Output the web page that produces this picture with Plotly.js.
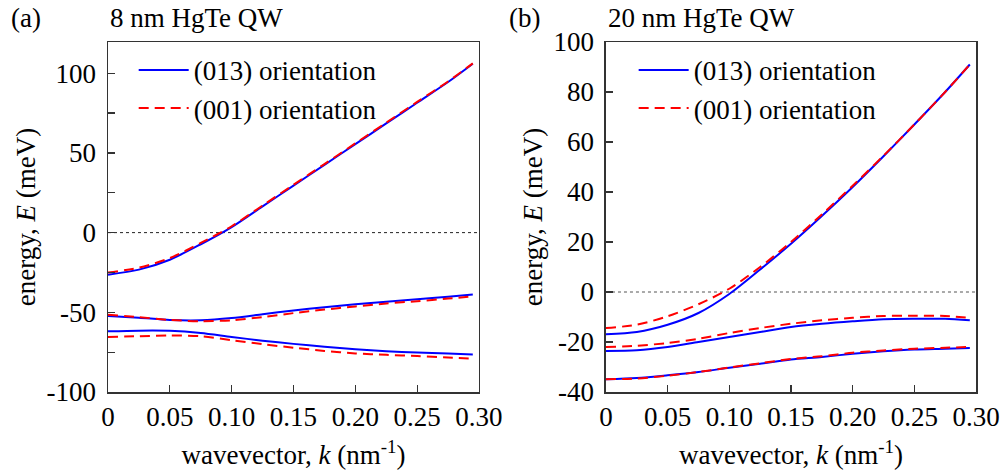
<!DOCTYPE html>
<html>
<head>
<meta charset="utf-8">
<script src="https://cdn.plot.ly/plotly-3.0.1.min.js"></script>
<style>
html,body{margin:0;padding:0;background:#fff;}
#chart{width:1007px;height:475px;}
#chart svg text{font-family:"Liberation Serif",serif !important;}
</style>
</head>
<body>
<div id="chart"></div>
<script>
// wavevector k (nm^-1)
const k = [0, 0.025, 0.05, 0.075, 0.1, 0.125, 0.15, 0.175, 0.2, 0.225, 0.25, 0.275, 0.295];

// (a) 8 nm HgTe QW, energies in meV
const a_band1_013 = [-26.4, -23.2, -17, -7.3, 3.5, 16.5, 29.5, 42.5, 55.5, 68.5, 81.5, 94.5, 106];
const a_band1_001 = [-25.1, -22, -16, -6.5, 4, 17, 30, 43, 56, 69, 82, 94.8, 106.2];
const a_band2_013 = [-52.3, -53.4, -54.8, -55, -53.6, -51.2, -48.8, -46.8, -45, -43.3, -41.8, -40.2, -38.8];
const a_band2_001 = [-51.5, -53, -54.8, -55.6, -55, -53, -50.5, -48.3, -46.3, -44.5, -43, -41.4, -40];
const a_band3_013 = [-61.9, -61.5, -61.6, -63, -65.5, -67.8, -69.8, -71.6, -73.2, -74.4, -75.2, -75.8, -76.4];
const a_band3_001 = [-65.5, -65, -64.5, -65, -67.5, -70, -72.2, -74.2, -75.8, -76.7, -77.4, -78.4, -79];

// (b) 20 nm HgTe QW, energies in meV
const b_band1_013 = [-16.9, -16, -13.1, -8.4, -0.8, 9, 19.3, 30.4, 42, 54.3, 67, 80, 91];
const b_band1_001 = [-14.4, -13.1, -9.7, -4.9, 1.3, 10, 20, 31, 42.5, 54.5, 67, 80, 91];
const b_band2_013 = [-23.6, -23.3, -22, -20, -18, -16, -14, -12.7, -11.7, -10.9, -10.7, -10.7, -11.3];
const b_band2_001 = [-22, -21.5, -20.4, -18.7, -16.4, -14.4, -12.7, -11.3, -10.3, -9.6, -9.5, -9.6, -10.3];
const b_band3_013 = [-34.9, -34.4, -33.3, -32, -30.3, -28.7, -27, -26, -24.7, -23.7, -23, -22.7, -22.4];
const b_band3_001 = [-34.9, -34.6, -33.5, -32, -30.2, -28.5, -26.8, -25.7, -24.3, -23.4, -22.7, -22.3, -22];

// tick labels
const xTickVals = [0, 0.05, 0.10, 0.15, 0.20, 0.25, 0.30];
const xTickText = ['0', '0.05', '0.10', '0.15', '0.20', '0.25', '0.30'];
const yaTickVals = [-100, -50, 0, 50, 100];
const yaTickText = ['-100', '-50', '0', '50', '100'];
const yaMinorVals = [-75, -25, 25, 75];
const ybTickVals = [-40, -20, 0, 20, 40, 60, 80, 100];
const ybTickText = ['-40', '-20', '0', '20', '40', '60', '80', '100'];

const name013 = '(013) orientation';
const name001 = '(001) orientation';

const FONT = 'Liberation Serif';
const blue = {color: '#0000ff', width: 2, shape: 'spline', smoothing: 0.8};
const red = {color: '#ff0000', width: 2, dash: '10px,6px', shape: 'spline', smoothing: 0.8};

function tr(y, line, name, xa, ya, lg, show) {
  return {x: k, y: y, type: 'scatter', mode: 'lines', line: line, name: name,
          xaxis: xa, yaxis: ya, legend: lg, showlegend: show, legendgroup: lg + name};
}

const data = [
  tr(a_band1_013, blue, name013, 'x', 'y', 'legend', true),
  tr(a_band1_001, red, name001, 'x', 'y', 'legend', true),
  tr(a_band2_013, blue, name013, 'x', 'y', 'legend', false),
  tr(a_band2_001, red, name001, 'x', 'y', 'legend', false),
  tr(a_band3_013, blue, name013, 'x', 'y', 'legend', false),
  tr(a_band3_001, red, name001, 'x', 'y', 'legend', false),
  tr(b_band1_013, blue, name013, 'x2', 'y2', 'legend2', true),
  tr(b_band1_001, red, name001, 'x2', 'y2', 'legend2', true),
  tr(b_band2_013, blue, name013, 'x2', 'y2', 'legend2', false),
  tr(b_band2_001, red, name001, 'x2', 'y2', 'legend2', false),
  tr(b_band3_013, blue, name013, 'x2', 'y2', 'legend2', false),
  tr(b_band3_001, red, name001, 'x2', 'y2', 'legend2', false)
];

const axisCommon = {
  showline: true, linecolor: '#333', linewidth: 1.5, mirror: true,
  ticks: 'inside', ticklen: 7, tickwidth: 1.2, tickcolor: '#333',
  showgrid: false, zeroline: false, automargin: false,
  tickfont: {family: FONT, size: 27, color: '#000'}
};

const xTitle = {text: 'wavevector, <i>k</i> (nm<sup>-1</sup>)', font: {family: FONT, size: 27, color: '#000'}, standoff: 14};
const yTitle = {text: 'energy, <i>E</i> (meV)', font: {family: FONT, size: 27, color: '#000'}, standoff: 3};

const legendCommon = {
  xref: 'paper', yref: 'paper', xanchor: 'left', yanchor: 'top',
  bgcolor: 'rgba(0,0,0,0)', borderwidth: 0, itemwidth: 50,
  font: {family: FONT, size: 27, color: '#000'}, tracegroupgap: 0
};

const layout = {
  width: 1007, height: 475,
  margin: {l: 108, r: 31, t: 42, b: 83, pad: 0},
  paper_bgcolor: '#fff', plot_bgcolor: '#fff',
  font: {family: FONT, size: 27, color: '#000'},
  xaxis: Object.assign({}, axisCommon, {domain: [0, 0.4274], range: [0, 0.3], anchor: 'y',
          tickvals: xTickVals, ticktext: xTickText, title: xTitle}),
  yaxis: Object.assign({}, axisCommon, {domain: [0, 1], range: [-100, 119.6], anchor: 'x',
          tickvals: yaTickVals, ticktext: yaTickText, title: yTitle, ticklabelstandoff: 5,
          minor: {tickvals: yaMinorVals, ticks: 'inside', ticklen: 7, tickwidth: 1.2, tickcolor: '#333', showgrid: false}}),
  xaxis2: Object.assign({}, axisCommon, {domain: [0.5737, 1], range: [0, 0.3], anchor: 'y2',
          tickvals: xTickVals, ticktext: xTickText, title: xTitle}),
  yaxis2: Object.assign({}, axisCommon, {domain: [0, 1], range: [-40, 100], anchor: 'x2',
          tickvals: ybTickVals, ticktext: ybTickText, title: yTitle, ticklabelstandoff: 5}),
  legend: Object.assign({}, legendCommon, {x: 0.0296, y: 0.989}),
  legend2: Object.assign({}, legendCommon, {x: 0.6056, y: 0.989}),
  shapes: [
    {type: 'line', xref: 'x domain', yref: 'y', x0: 0, x1: 1, y0: 0, y1: 0, layer: 'below',
     line: {color: '#222', width: 1, dash: '3px,3px'}},
    {type: 'line', xref: 'x2 domain', yref: 'y2', x0: 0, x1: 1, y0: 0, y1: 0, layer: 'below',
     line: {color: '#555', width: 1, dash: '3px,3px'}}
  ],
  annotations: [
    {text: '(a)', xref: 'paper', yref: 'paper', x: (9 - 108) / 868, y: (392 - 18) / 350,
     xanchor: 'left', yanchor: 'middle', showarrow: false, font: {family: FONT, size: 27, color: '#000'}},
    {text: '8 nm HgTe QW', xref: 'paper', yref: 'paper', x: 0, y: (392 - 18) / 350,
     xanchor: 'left', yanchor: 'middle', showarrow: false, font: {family: FONT, size: 27, color: '#000'}},
    {text: '(b)', xref: 'paper', yref: 'paper', x: (507 - 108) / 868, y: (392 - 18) / 350,
     xanchor: 'left', yanchor: 'middle', showarrow: false, font: {family: FONT, size: 27, color: '#000'}},
    {text: '20 nm HgTe QW', xref: 'paper', yref: 'paper', x: 0.5737, y: (392 - 18) / 350,
     xanchor: 'left', yanchor: 'middle', showarrow: false, font: {family: FONT, size: 27, color: '#000'}}
  ]
};

Plotly.newPlot('chart', data, layout, {staticPlot: true, displayModeBar: false});
</script>
</body>
</html>
